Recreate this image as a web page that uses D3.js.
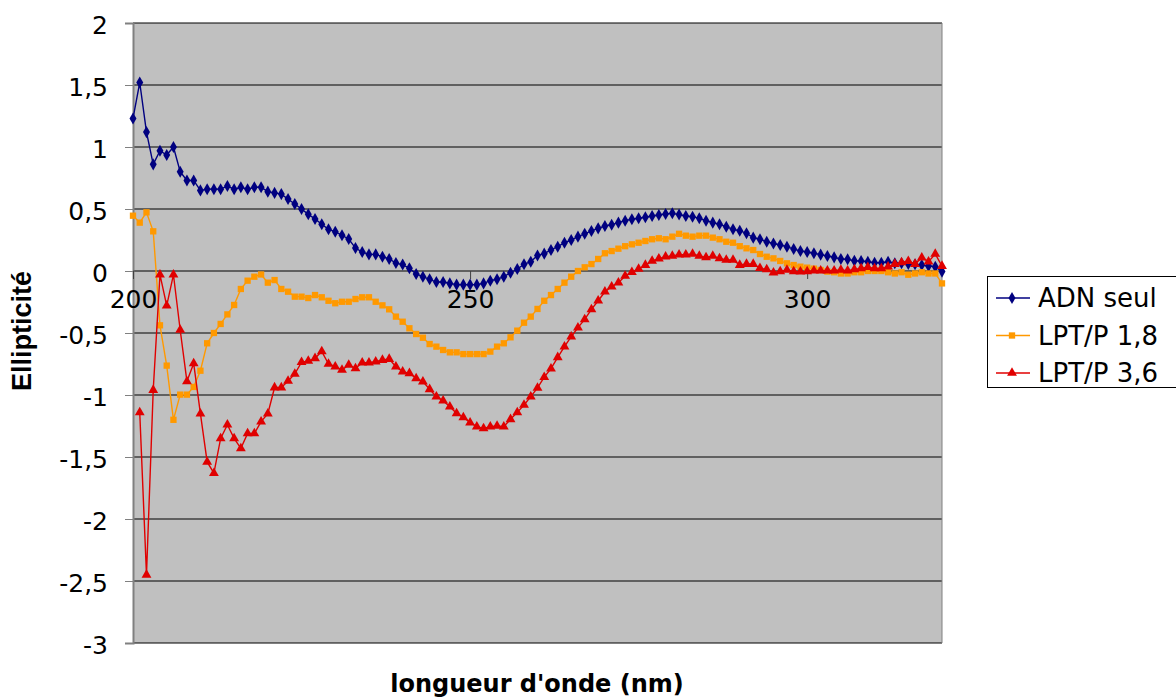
<!DOCTYPE html>
<html>
<head>
<meta charset="utf-8">
<script src="https://cdn.jsdelivr.net/npm/d3@7"></script>
<style>
  html, body { margin: 0; padding: 0; background: #ffffff; }
  svg { display: block; }
</style>
</head>
<body>
<svg id="chart" width="1176" height="698"></svg>
<script>
// Wavelength categories (nm), one reading per nanometre
const wavelengths = d3.range(200, 321);
const xTickLabels = [200, 250, 300];
const yTickValues = [2, 1.5, 1, 0.5, 0, -0.5, -1, -1.5, -2, -2.5, -3];

const seriesNames = ["ADN seul", "LPT/P 1,8", "LPT/P 3,6"];

// DNA alone
const adnSeul = [
  1.23, 1.52, 1.12, 0.86, 0.97, 0.935, 1.0, 0.80, 0.73, 0.73,
  0.65, 0.66, 0.66, 0.66, 0.685, 0.66, 0.675, 0.66, 0.675, 0.675,
  0.64, 0.63, 0.62, 0.58, 0.54, 0.50, 0.457, 0.42, 0.377, 0.336,
  0.317, 0.288, 0.258, 0.185, 0.153, 0.134, 0.134, 0.115, 0.097, 0.064,
  0.052, 0.022, -0.024, -0.046, -0.067, -0.089, -0.089, -0.10, -0.11, -0.11,
  -0.11, -0.11, -0.10, -0.078, -0.067, -0.046, -0.014, 0.016, 0.054, 0.075,
  0.125, 0.14, 0.17, 0.196, 0.228, 0.25, 0.277, 0.30, 0.323, 0.344,
  0.363, 0.373, 0.39, 0.406, 0.417, 0.425, 0.433, 0.444, 0.452, 0.46,
  0.465, 0.455, 0.444, 0.438, 0.425, 0.406, 0.39, 0.377, 0.357, 0.336,
  0.325, 0.304, 0.269, 0.256, 0.236, 0.222, 0.21, 0.196, 0.177, 0.161,
  0.153, 0.143, 0.132, 0.121, 0.11, 0.097, 0.094, 0.083, 0.081, 0.075,
  0.067, 0.067, 0.075, 0.062, 0.062, 0.056, 0.054, 0.048, 0.04, 0.035,
  -0.005
];

// LPT/P ratio 1,8
const lpt18 = [
  0.446, 0.39, 0.473, 0.32, -0.438, -0.763, -1.20, -0.997, -0.997, -0.935,
  -0.804, -0.583, -0.50, -0.427, -0.35, -0.274, -0.145, -0.078, -0.046, -0.028,
  -0.094, -0.073, -0.145, -0.167, -0.207, -0.207, -0.218, -0.194, -0.212, -0.24,
  -0.26, -0.248, -0.248, -0.226, -0.212, -0.212, -0.248, -0.277, -0.309, -0.368,
  -0.409, -0.462, -0.508, -0.538, -0.589, -0.61, -0.637, -0.656, -0.656, -0.67,
  -0.67, -0.67, -0.67, -0.65, -0.61, -0.583, -0.535, -0.481, -0.417, -0.368,
  -0.306, -0.24, -0.194, -0.145, -0.094, -0.046, 0.0, 0.03, 0.056, 0.097,
  0.143, 0.161, 0.18, 0.20, 0.215, 0.228, 0.242, 0.256, 0.264, 0.256,
  0.277, 0.30, 0.285, 0.277, 0.285, 0.285, 0.269, 0.256, 0.236, 0.228,
  0.20, 0.183, 0.169, 0.137, 0.115, 0.102, 0.081, 0.062, 0.048, 0.035,
  0.027, 0.019, 0.008, -0.005, -0.01, -0.02, -0.02, -0.01, -0.01, 0.0,
  0.0, 0.0, -0.01, -0.02, -0.01, -0.03, -0.02, -0.01, -0.02, -0.02,
  -0.10
];

// LPT/P ratio 3,6 (no reading at 200 nm)
const lpt36 = [
  null, -1.14, -2.45, -0.96, -0.03, -0.28, -0.03, -0.476, -0.89, -0.745,
  -1.15, -1.54, -1.63, -1.35, -1.24, -1.35, -1.43, -1.31, -1.31, -1.215,
  -1.15, -0.94, -0.94, -0.887, -0.83, -0.736, -0.726, -0.704, -0.648, -0.75,
  -0.772, -0.798, -0.758, -0.785, -0.739, -0.739, -0.731, -0.718, -0.71, -0.772,
  -0.812, -0.825, -0.866, -0.892, -0.954, -1.013, -1.046, -1.094, -1.148, -1.18,
  -1.223, -1.255, -1.269, -1.255, -1.25, -1.255, -1.196, -1.14, -1.08, -1.013,
  -0.943, -0.856, -0.788, -0.696, -0.61, -0.53, -0.457, -0.39, -0.309, -0.24,
  -0.167, -0.127, -0.094, -0.04, -0.01, 0.016, 0.048, 0.081, 0.10, 0.115,
  0.121, 0.131, 0.132, 0.137, 0.121, 0.11, 0.121, 0.102, 0.089, 0.089,
  0.048, 0.056, 0.056, 0.022, 0.013, -0.013, -0.003, 0.008, -0.003, -0.005,
  -0.003, 0.003, 0.003, 0.003, 0.003, 0.008, 0.003, 0.013, 0.02, 0.03,
  0.02, 0.02, 0.035, 0.056, 0.07, 0.08, 0.056, 0.107, 0.075, 0.137,
  0.04
];

const seriesColors = ["#000080", "#FF9900", "#E00000"];
const markerTypes = [d3.symbolDiamond, d3.symbolSquare, d3.symbolTriangle];
const markerSizes = [42, 40, 42];

const svg = d3.select("#chart");
const plot = { left: 133, right: 942, top: 23, bottom: 643 };

const x = d3.scaleLinear().domain([200, 320]).range([plot.left, plot.right]);
const y = d3.scaleLinear().domain([-3, 2]).range([plot.bottom, plot.top]);

const tickFont = "'DejaVu Sans', Verdana, sans-serif";
// Decimal comma and a plain hyphen for negatives
const frenchNumber = d => String(d).replace(".", ",");

// Plot area background
svg.append("rect")
  .attr("x", plot.left).attr("y", plot.top)
  .attr("width", plot.right - plot.left).attr("height", plot.bottom - plot.top)
  .attr("fill", "#c0c0c0");

// Horizontal gridlines
svg.append("g")
  .selectAll("line")
  .data(yTickValues)
  .join("line")
  .attr("x1", plot.left).attr("x2", plot.right)
  .attr("y1", d => y(d)).attr("y2", d => y(d))
  .attr("stroke", "#000000").attr("stroke-width", 1);

// Right border of the plot area
svg.append("line")
  .attr("x1", plot.right).attr("x2", plot.right)
  .attr("y1", plot.top).attr("y2", plot.bottom)
  .attr("stroke", "#808080").attr("stroke-width", 1);

// Value axis on the left
const yAxis = d3.axisLeft(y)
  .tickValues(yTickValues)
  .tickSize(8)
  .tickPadding(17)
  .tickFormat(frenchNumber);
const gy = svg.append("g")
  .attr("transform", `translate(${plot.left},0)`)
  .call(yAxis);
gy.select(".domain").attr("stroke", "#808080").attr("stroke-width", 2);
gy.selectAll(".tick line").attr("stroke", "#808080");
gy.selectAll(".tick text")
  .attr("font-family", tickFont)
  .attr("font-size", 25)
  .attr("fill", "#000")
  .attr("dy", "0.42em");

// Category axis crossing at zero
const xAxis = d3.axisBottom(x)
  .tickValues(xTickLabels)
  .tickSize(8)
  .tickPadding(20)
  .tickFormat(frenchNumber);
const gx = svg.append("g")
  .attr("transform", `translate(0,${y(0)})`)
  .call(xAxis);
gx.select(".domain").attr("stroke", "#606060").attr("stroke-width", 1.5)
  .attr("d", `M${plot.left},0H${plot.right}`);
gx.selectAll(".tick line").attr("stroke", "#404040");
gx.selectAll(".tick text")
  .attr("font-family", tickFont)
  .attr("font-size", 25)
  .attr("fill", "#000")
  .attr("dy", "0.35em");

// Series lines and markers
const allSeries = [adnSeul, lpt18, lpt36];
const line = d3.line()
  .defined(d => d.v !== null)
  .x(d => x(d.w))
  .y(d => y(d.v));

allSeries.forEach((vals, s) => {
  const pts = wavelengths.map((w, i) => ({ w, v: vals[i] }));
  const g = svg.append("g");
  g.append("path")
    .datum(pts)
    .attr("d", line)
    .attr("fill", "none")
    .attr("stroke", seriesColors[s])
    .attr("stroke-width", 1.4);
  g.selectAll("path.marker")
    .data(pts.filter(d => d.v !== null))
    .join("path")
    .attr("class", "marker")
    .attr("transform", d => `translate(${x(d.w)},${y(d.v)})`)
    .attr("d", d3.symbol().type(markerTypes[s]).size(markerSizes[s]))
    .attr("fill", seriesColors[s]);
});

// Axis titles
svg.append("text")
  .attr("x", 537).attr("y", 684)
  .attr("text-anchor", "middle")
  .attr("dominant-baseline", "central")
  .attr("font-family", tickFont)
  .attr("font-weight", "bold")
  .attr("font-size", 24)
  .text("longueur d'onde (nm)");

svg.append("text")
  .attr("transform", "translate(22,331) rotate(-90)")
  .attr("text-anchor", "middle")
  .attr("dominant-baseline", "central")
  .attr("font-family", "'Liberation Sans', Arial, sans-serif")
  .attr("font-weight", "bold")
  .attr("font-size", 27)
  .text("Ellipticité");

// Legend
const legend = svg.append("g");
legend.append("rect")
  .attr("x", 987.5).attr("y", 276.5)
  .attr("width", 200).attr("height", 111)
  .attr("fill", "#ffffff").attr("stroke", "#000000").attr("stroke-width", 1);
const legendRowY = d3.scalePoint().domain(seriesNames).range([298, 373]);
seriesNames.forEach((name, s) => {
  const ly = legendRowY(name);
  legend.append("line")
    .attr("x1", 996).attr("x2", 1030)
    .attr("y1", ly).attr("y2", ly)
    .attr("stroke", seriesColors[s]).attr("stroke-width", 1.4);
  legend.append("path")
    .attr("transform", `translate(1012,${ly})`)
    .attr("d", d3.symbol().type(markerTypes[s]).size(markerSizes[s]))
    .attr("fill", seriesColors[s]);
  legend.append("text")
    .attr("x", 1038).attr("y", ly)
    .attr("dominant-baseline", "central")
    .attr("font-family", tickFont)
    .attr("font-size", 26)
    .text(name);
});
</script>
</body>
</html>
